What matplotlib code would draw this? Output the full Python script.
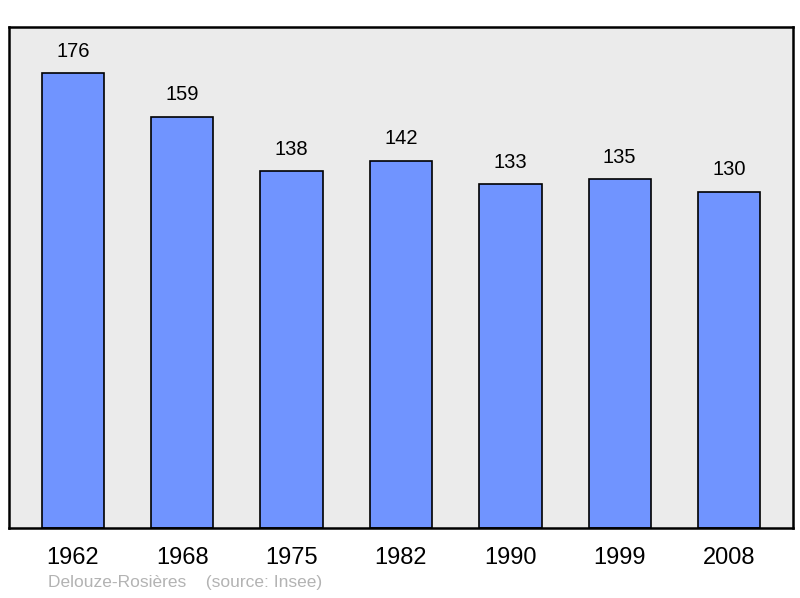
import matplotlib.pyplot as plt

years = ['1962', '1968', '1975', '1982', '1990', '1999', '2008']
population = [176, 159, 138, 142, 133, 135, 130]

plt.rcParams['font.family'] = ['Liberation Sans', 'DejaVu Sans']

fig = plt.figure(figsize=(8, 5.98), dpi=100)
ax = fig.add_axes([9 / 800, 70 / 598, 784 / 800, 501 / 598])
ax.set_facecolor('#ebebeb')

x = range(len(years))
bars = ax.bar(x, population, width=0.57, color='#7094ff', edgecolor='black', linewidth=1.2)
for xi, val in zip(x, population):
    ax.annotate(str(val), (xi, val), xytext=(0, 9), textcoords='offset points',
                ha='center', va='bottom', fontsize=14.5)

ax.set_xlim(-0.585, len(years) - 1 + 0.585)
ax.set_ylim(0, 193.8)
ax.set_xticks(list(x))
ax.set_xticklabels(years, fontsize=17)
ax.tick_params(axis='x', length=0, pad=14)
ax.set_yticks([])
for s in ax.spines.values():
    s.set_linewidth(1.8)

fig.text(48 / 800, 1 - 583 / 598, 'Delouze-Rosières    (source: Insee)', fontsize=12.5,
         color='#b3b3b3', va='center', ha='left')

fig.savefig('out.png', dpi=100)
